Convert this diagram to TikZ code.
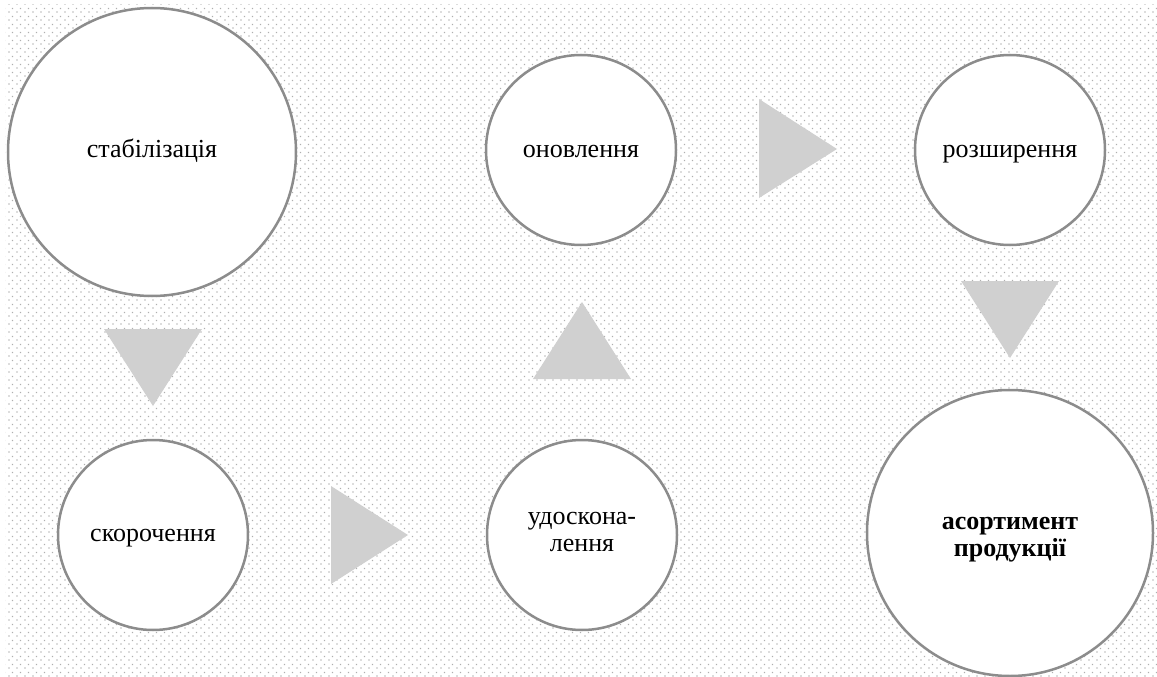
\documentclass[tikz,border=0pt]{standalone}
\usepackage{fontspec}
\setmainfont{Liberation Serif}
\usetikzlibrary{patterns}
\pgfdeclarepatternformonly{wdots}{\pgfqpoint{0pt}{0pt}}{\pgfqpoint{8pt}{8pt}}{\pgfqpoint{8pt}{8pt}}{%
  \pgfpathrectangle{\pgfqpoint{0.3pt}{0.3pt}}{\pgfqpoint{1.4pt}{1.4pt}}%
  \pgfpathrectangle{\pgfqpoint{4.3pt}{4.3pt}}{\pgfqpoint{1.4pt}{1.4pt}}%
  \pgfusepath{fill}}
\definecolor{dotgray}{RGB}{175,175,175}
\definecolor{ringgray}{RGB}{140,140,140}
\definecolor{trigray}{RGB}{208,208,208}
\begin{document}
\begin{tikzpicture}[x=1pt,y=-1pt,
  ring/.style={circle,draw=ringgray,line width=2.5pt,fill=white,inner sep=0pt},
  bigring/.style={ring,minimum size=288pt},
  smallring/.style={ring,minimum size=190pt},
  lbl/.style={anchor=base,inner sep=0pt,font=\fontsize{26}{27}\selectfont},
  blbl/.style={lbl,font=\fontsize{26}{27}\selectfont\bfseries},
  tri/.style={fill=trigray}]
\useasboundingbox (0,0) rectangle (1157,677);
\fill[pattern=wdots,pattern color=dotgray] (5,5) rectangle (1157,677);
\node[bigring] (stab) at (152,152) {};
\node[smallring] (onov) at (581,150) {};
\node[smallring] (rozs) at (1010,150) {};
\node[smallring] (skor) at (153,535) {};
\node[smallring] (udos) at (582,535) {};
\node[bigring,minimum size=286pt] (asor) at (1010,533) {};
\node[lbl] (stabt) at (152,157) {стабілізація};
\node[lbl] (onovt) at (581,157) {оновлення};
\node[lbl] (rozst) at (1010,157) {розширення};
\node[lbl] (skort) at (153,541) {скорочення};
\node[lbl] (udost1) at (582,524) {удоскона-};
\node[lbl] (udost2) at (582,551) {лення};
\node[blbl] (asort1) at (1010,529) {асортимент};
\node[blbl] (asort2) at (1010,556) {продукції};
\fill[tri] (104,329) -- (202,329) -- (153,406) -- cycle;
\fill[tri] (331,486) -- (331,584) -- (408,535) -- cycle;
\fill[tri] (533,379) -- (631,379) -- (582,302) -- cycle;
\fill[tri] (759,99) -- (759,198) -- (837,149) -- cycle;
\fill[tri] (961,281) -- (1059,281) -- (1010,358) -- cycle;
\end{tikzpicture}
\end{document}
